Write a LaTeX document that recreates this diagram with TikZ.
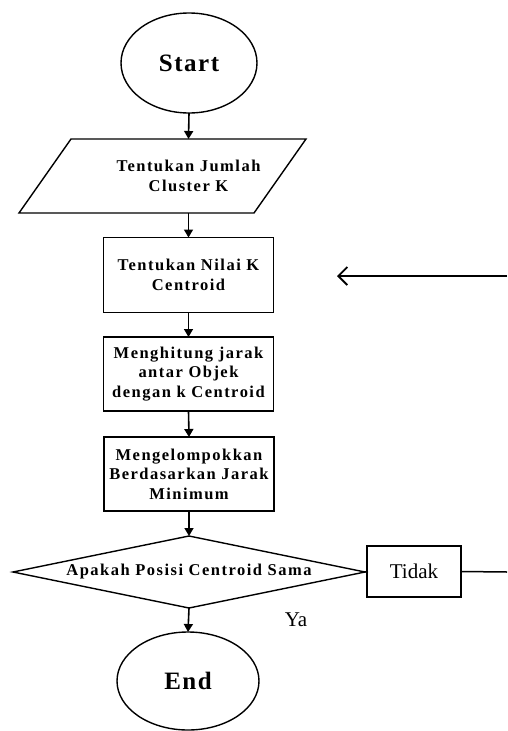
\documentclass[tikz,border=0pt]{standalone}
\usepackage{fontspec}
\setmainfont{Liberation Serif}
\newfontfamily\btf[LetterSpace=9]{Liberation Serif}
\newfontfamily\btt[LetterSpace=6]{Liberation Serif}
\usetikzlibrary{arrows.meta,shapes.geometric}
\begin{document}
\begin{tikzpicture}[x=1pt,y=-1pt,
  every node/.style={inner sep=0pt,outer sep=0pt},
  lbl/.style={font=\btf\bfseries\fontsize{16.5}{19.5}\selectfont,align=center,text=black},
  term/.style={ellipse,draw,line width=1.4pt,font=\btt\bfseries\fontsize{25}{28}\selectfont},
  procbox/.style={rectangle,draw,line width=1.7pt,minimum width=170pt,minimum height=75pt,lbl},
  flow/.style={line width=1.6pt,-{Triangle[length=8pt,width=9pt]}},
  plain/.style={line width=1.5pt},
  shp/.style={line width=1.4pt}]
\useasboundingbox (0,0) rectangle (507,731);
\node[term,minimum width=136pt,minimum height=100pt] (start) at (189,63) {Start};
\node[lbl,minimum width=235pt,minimum height=74pt] (para) at (188.5,176) {Tentukan Jumlah\\Cluster K};
\draw[shp] (para.north west) -- (para.north east) -- ([xshift=-52pt]para.south east) -- ([xshift=-52pt]para.south west) -- cycle;
\node[procbox] (b2) at (188.5,275) {Tentukan Nilai K\\Centroid};
\node[procbox,minimum height=74pt] (b3) at (188.5,374) {Menghitung jarak\\antar Objek\\dengan k Centroid};
\node[procbox,minimum height=74pt] (b4) at (189,474) {Mengelompokkan\\Berdasarkan Jarak\\Minimum};
\node[lbl,minimum width=352pt,minimum height=72pt] (dec) at (189,572) {Apakah Posisi Centroid Sama};
\draw[shp] (dec.west) -- (dec.north) -- (dec.east) -- (dec.south) -- cycle;
\node[draw,line width=1.7pt,minimum width=94pt,minimum height=51pt,font=\fontsize{21}{24}\selectfont] (tidak) at (414,571.5) {Tidak};
\node[font=\fontsize{21}{24}\selectfont] (ya) at (296,620) {Ya};
\node[term,minimum width=142pt,minimum height=98pt] (end) at (188,681) {End};
\coordinate (rout) at (507,572);
\coordinate (rin) at (507,276);
\coordinate (tip) at (337,276);
\draw[flow] (start.south) -- (para.north);
\draw[flow] (para.south) -- (b2.north);
\draw[flow] (b2.south) -- (b3.north);
\draw[flow] (b3.south) -- (b4.north);
\draw[flow] (b4.south) -- (dec.north);
\draw[flow] (dec.south) -- (end.north);
\draw[plain] (dec.east) -- (tidak.west);
\draw[plain] (tidak.east) -- (rout);
\draw[line width=1.6pt,-{Straight Barb[length=9pt,width=18pt,line width=1.8pt]}] (rin) -- (tip);
\end{tikzpicture}
\end{document}
